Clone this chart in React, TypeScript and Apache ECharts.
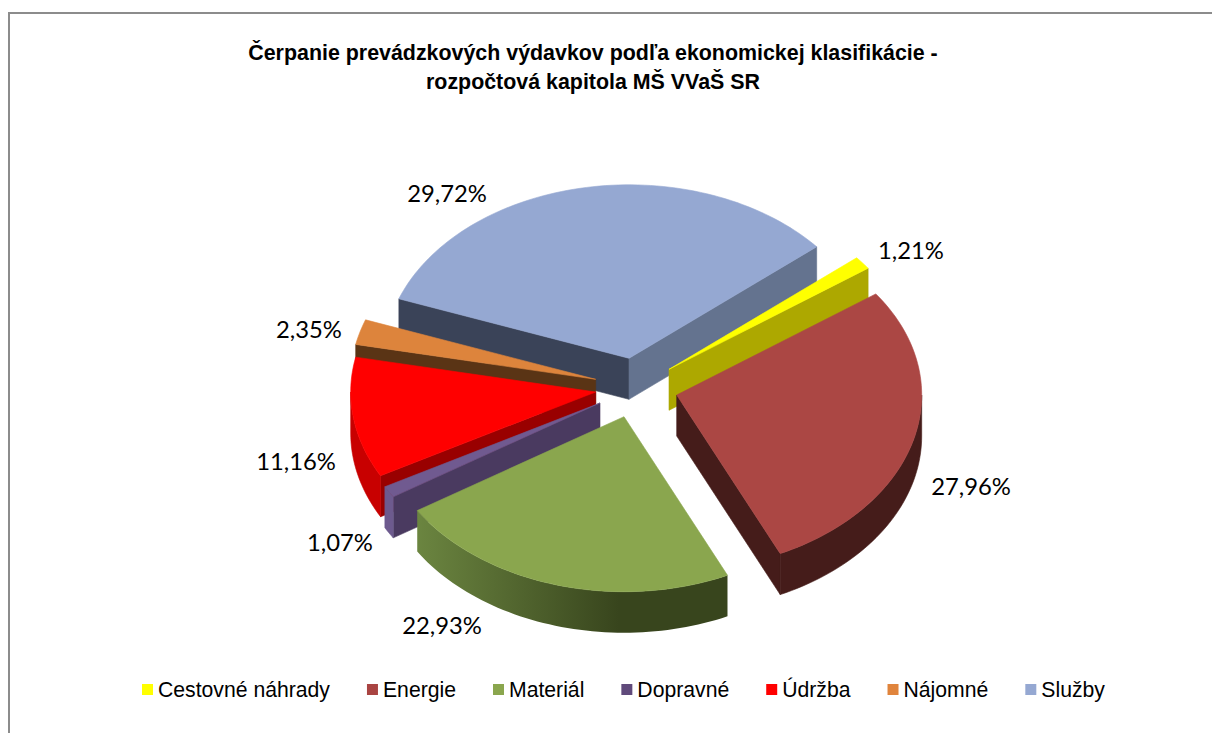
import React, { useEffect, useRef } from "react";
import * as echarts from "echarts";

const titleText = "Čerpanie prevádzkových výdavkov podľa ekonomickej klasifikácie -\nrozpočtová kapitola MŠ VVaŠ SR";
const categories = ["Cestovné náhrady", "Energie", "Materiál", "Dopravné", "Údržba", "Nájomné", "Služby"];
const shares = [1.21, 27.96, 22.93, 1.07, 11.16, 2.35, 29.72];

// styling / geometry (not data)
const topColors = ["#FFFF00", "#AB4744", "#8AA64E", "#705A90", "#FF0000", "#DD843C", "#95A8D2"];
const legendColors = ["#FFFF00", "#A94442", "#8AA64E", "#604A7B", "#FF0000", "#E0843C", "#95A8D2"];
const startWallColors = ["#ADA800", "#451C1A", "#38451D", "#4A3A60", "#990000", "#5A3415", "#3A4358"];
const endWallColors = ["#ADA800", "#451C1A", "#38451D", "#6D5A8E", "#990000", "#5A3415", "#64738F"];
const apexX = [669, 676.7, 624, 600, 595.7, 595.7, 629];
const apexY = [369.3, 395, 416.7, 403, 392, 379.3, 358.3];
const labelX = [911, 971, 442, 340, 296, 309, 447];
const labelY = [250, 486, 625, 542, 461, 329, 193];
const drawOrder = [6, 5, 4, 3, 0, 2, 1];
const RX = 245;
const RY_BACK = 173.5;
const RY_FRONT = 175;
const DEPTH = 41;
const FIRST_ANGLE = 50;

const rad = (d: number) => (d * Math.PI) / 180;

function sliceRange(i: number): [number, number] {
  let s = FIRST_ANGLE;
  for (let k = 0; k < i; k++) s += shares[k] * 3.6;
  // The last slice closes the pie, as the slice drawn in the picture does.
  const e = i === shares.length - 1 ? FIRST_ANGLE + 360 : s + shares[i] * 3.6;
  return [s, e];
}

function rimFill(i: number) {
  if (i === 2) {
    return new echarts.graphic.LinearGradient(0, 0, 1, 0, [
      { offset: 0, color: "#6B8540" },
      { offset: 0.65, color: "#38451D" },
      { offset: 1, color: "#38451D" },
    ]);
  }
  if (i === 1) return "#451C1A";
  if (i === 3) return "#6D5A8E";
  if (i === 4) return "#C80000";
  return startWallColors[i];
}

function makeRender(i: number) {
  return (_params: any, api: any) => {
    const [s, e] = sliceRange(i);
    const cx = apexX[i];
    const cy = apexY[i];
    const pt = (t: number, dy = 0): number[] => {
      const c = Math.cos(rad(t));
      return [cx + RX * Math.sin(rad(t)), cy - (c > 0 ? RY_BACK : RY_FRONT) * c + dy];
    };
    const arc = (a: number, b: number, dy = 0) => {
      const out: number[][] = [];
      const n = Math.max(2, Math.ceil(Math.abs(b - a) / 1.5));
      for (let k = 0; k <= n; k++) out.push(pt(a + ((b - a) * k) / n, dy));
      return out;
    };
    const poly = (points: number[][], fill: any) => ({
      type: "polygon",
      shape: { points },
      style: { fill, stroke: typeof fill === "string" ? fill : undefined, lineWidth: 0.6 },
    });
    const children: any[] = [];
    // radial walls
    if (Math.sin(rad(s)) < 0) {
      children.push(poly([[cx, cy], pt(s), pt(s, DEPTH), [cx, cy + DEPTH]], startWallColors[i]));
    }
    if (Math.sin(rad(e)) > 0) {
      children.push(poly([[cx, cy], pt(e), pt(e, DEPTH), [cx, cy + DEPTH]], endWallColors[i]));
    }
    // outer rim: the front half of the ellipse only
    for (const base of [0, 360]) {
      const a = Math.max(s, 90 + base);
      const b = Math.min(e, 270 + base);
      if (b > a) {
        children.push(poly([...arc(a, b), ...arc(b, a, DEPTH)], rimFill(i)));
      }
    }
    // top face
    children.push(poly([[cx, cy], ...arc(s, e)], topColors[i]));
    // data label
    children.push({
      type: "text",
      style: {
        text: api.value(0).toFixed(2).replace(".", ",") + "%",
        x: labelX[i],
        y: labelY[i],
        fill: "#000",
        font: '23.8px Lato, "Open Sans", sans-serif',
        align: "center",
        verticalAlign: "middle",
      },
    });
    return { type: "group", children };
  };
}

export default function App() {
  const ref = useRef<HTMLDivElement>(null);
  useEffect(() => {
    document.body.style.margin = "0";
    const chart = echarts.init(ref.current!, undefined, { renderer: "svg" });
    chart.setOption({
      animation: false,
      backgroundColor: "#fff",
      title: {
        text: titleText,
        left: 588,
        top: 33,
        textAlign: "center",
        textStyle: {
          fontFamily: '"Liberation Sans", Arial, sans-serif',
          fontWeight: "bold",
          fontSize: 21.4,
          lineHeight: 29,
          color: "#000",
        },
      },
      legend: {
        data: categories,
        left: 137,
        top: 674,
        orient: "horizontal",
        icon: "rect",
        itemWidth: 11,
        itemHeight: 11,
        itemGap: 37,
        selectedMode: false,
        textStyle: {
          fontFamily: '"Liberation Sans", Arial, sans-serif',
          fontSize: 21.2,
          color: "#000",
        },
      },
      graphic: [
        {
          type: "rect",
          shape: { x: 9, y: 13, width: 1400, height: 1000 },
          style: { fill: "none", stroke: "#8C8C8C", lineWidth: 2 },
          silent: true,
        },
      ],
      series: drawOrder.map((i) => ({
        type: "custom",
        name: categories[i],
        coordinateSystem: "none",
        itemStyle: { color: legendColors[i] },
        data: [[shares[i]]],
        renderItem: makeRender(i),
      })),
    });
    return () => chart.dispose();
  }, []);
  return <div ref={ref} style={{ position: "absolute", left: 0, top: 0, width: 1212, height: 733 }} />;
}
